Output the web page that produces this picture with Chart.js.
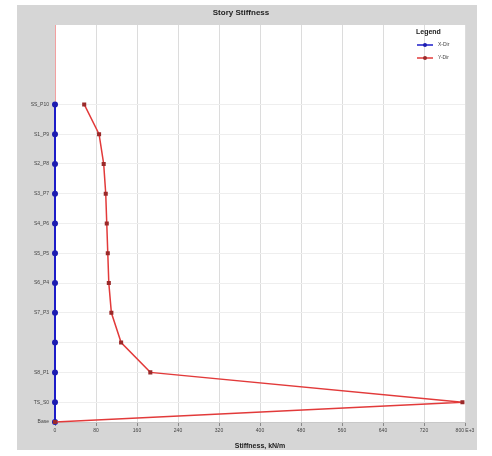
<!DOCTYPE html>
<html>
<head>
<meta charset="utf-8">
<script src="https://cdn.jsdelivr.net/npm/chart.js@4.4.1/dist/chart.umd.min.js"></script>
<style>
  html, body { margin: 0; padding: 0; background: #fff; }
  canvas { display: block; }
</style>
</head>
<body>
<canvas id="myChart" width="492" height="456"></canvas>
<script>
// storeys from Base up, with their elevations (m)
const storyNames = ['Base', 'TS_S0', 'S8_P1', '', 'S7_P3', 'S6_P4', 'S5_P5', 'S4_P6', 'S3_P7', 'S2_P8', 'S1_P9', 'SS_P10'];
const storyElev = [0, 2, 5, 8, 11, 14, 17, 20, 23, 26, 29, 32];

// stiffness, kN/m (x 1000)
const stiffX = [0, 0, 0, 0, 0, 0, 0, 0, 0, 0, 0, 0];
const stiffY = [0, 795, 186, 129, 110, 105, 103, 101, 99, 95, 86, 57];

const xTicks = [0, 80, 160, 240, 320, 400, 480, 560, 640, 720, 800];

const FONT = "'Liberation Sans', Arial, sans-serif";

function toPoints(vals) {
    return vals.map((v, i) => ({ x: v, y: storyElev[i] }));
}

// grey frame behind the whole chart and white plot area
const frame = {
    id: 'frame',
    beforeDraw(chart) {
        const ctx = chart.ctx;
        const a = chart.chartArea;
        ctx.save();
        ctx.fillStyle = '#ffffff';
        ctx.fillRect(0, 0, chart.width, chart.height);
        ctx.fillStyle = '#d6d6d6';
        ctx.fillRect(17, 5, 460, 445);
        ctx.fillStyle = '#ffffff';
        ctx.fillRect(a.left, a.top, a.right - a.left, a.bottom - a.top);
        ctx.restore();
    }
};

// legend box inside the plot, top right
const plotLegend = {
    id: 'plotLegend',
    afterDraw(chart) {
        const ctx = chart.ctx;
        const x0 = 416, y0 = 32;
        ctx.save();
        ctx.textBaseline = 'middle';
        ctx.fillStyle = '#222';
        ctx.font = 'bold 7px ' + FONT;
        ctx.fillText('Legend', x0, y0);
        chart.data.datasets.forEach((ds, i) => {
            const y = y0 + 13 + i * 13;
            ctx.strokeStyle = ds.borderColor;
            ctx.lineWidth = 1.5;
            ctx.beginPath();
            ctx.moveTo(x0 + 1, y);
            ctx.lineTo(x0 + 17, y);
            ctx.stroke();
            ctx.fillStyle = ds.pointBackgroundColor;
            ctx.beginPath();
            ctx.arc(x0 + 9, y, 2, 0, Math.PI * 2);
            ctx.fill();
            ctx.fillStyle = '#444';
            ctx.font = '5px ' + FONT;
            ctx.fillText(ds.label, x0 + 22, y);
        });
        ctx.restore();
    }
};

new Chart(document.getElementById('myChart').getContext('2d'), {
    type: 'scatter',
    data: {
        datasets: [{
            label: 'X-Dir',
            data: toPoints(stiffX),
            showLine: true,
            clip: 6,
            borderColor: '#1c1cc8',
            pointBackgroundColor: '#1c1cb0',
            pointBorderColor: '#1c1cb0',
            borderWidth: 2,
            pointRadius: 2,
            order: 1
        }, {
            label: 'Y-Dir',
            data: toPoints(stiffY),
            showLine: true,
            clip: 6,
            borderColor: '#e23a3a',
            pointBackgroundColor: '#9a2a2a',
            pointBorderColor: '#9a2a2a',
            borderWidth: 1.5,
            pointRadius: 1.8,
            pointStyle: 'rect',
            order: 0
        }]
    },
    options: {
        responsive: false,
        animation: false,
        devicePixelRatio: 1,
        layout: { padding: { left: 17, right: 27, top: 0, bottom: 6 } },
        plugins: {
            legend: { display: false },
            tooltip: { enabled: false },
            title: {
                display: true,
                text: 'Story Stiffness',
                color: '#222',
                font: { family: FONT, size: 8, weight: 'bold' },
                padding: { top: 8, bottom: 7.4 }
            }
        },
        scales: {
            x: {
                type: 'linear',
                min: 0,
                max: 800,
                afterBuildTicks(axis) {
                    axis.ticks = xTicks.map(v => ({ value: v }));
                },
                afterFit(axis) { axis.height = 28; },
                ticks: {
                    color: '#444',
                    font: { family: FONT, size: 5 },
                    padding: 2,
                    maxRotation: 0,
                    autoSkip: false,
                    callback: v => v === 800 ? '800 E+3' : String(v)
                },
                grid: { color: '#dcdcdc', lineWidth: 1, tickLength: 4, tickColor: '#888' },
                border: { color: '#c8c8c8' },
                title: {
                    display: true,
                    text: 'Stiffness, kN/m',
                    color: '#222',
                    font: { family: FONT, size: 7, weight: 'bold' },
                    padding: { top: 2, bottom: 0 }
                }
            },
            y: {
                type: 'linear',
                min: 0,
                max: 40,
                afterBuildTicks(axis) {
                    axis.ticks = storyElev.map(v => ({ value: v }));
                },
                afterFit(axis) { axis.width = 38; },
                ticks: {
                    color: '#444',
                    font: { family: FONT, size: 5 },
                    padding: 3,
                    autoSkip: false,
                    callback: v => storyNames[storyElev.indexOf(v)]
                },
                grid: { color: '#eeeeee', lineWidth: 1, tickLength: 3, tickColor: '#aaa' },
                border: { color: '#f2a0a0' }
            }
        }
    },
    plugins: [frame, plotLegend]
});
</script>
</body>
</html>
